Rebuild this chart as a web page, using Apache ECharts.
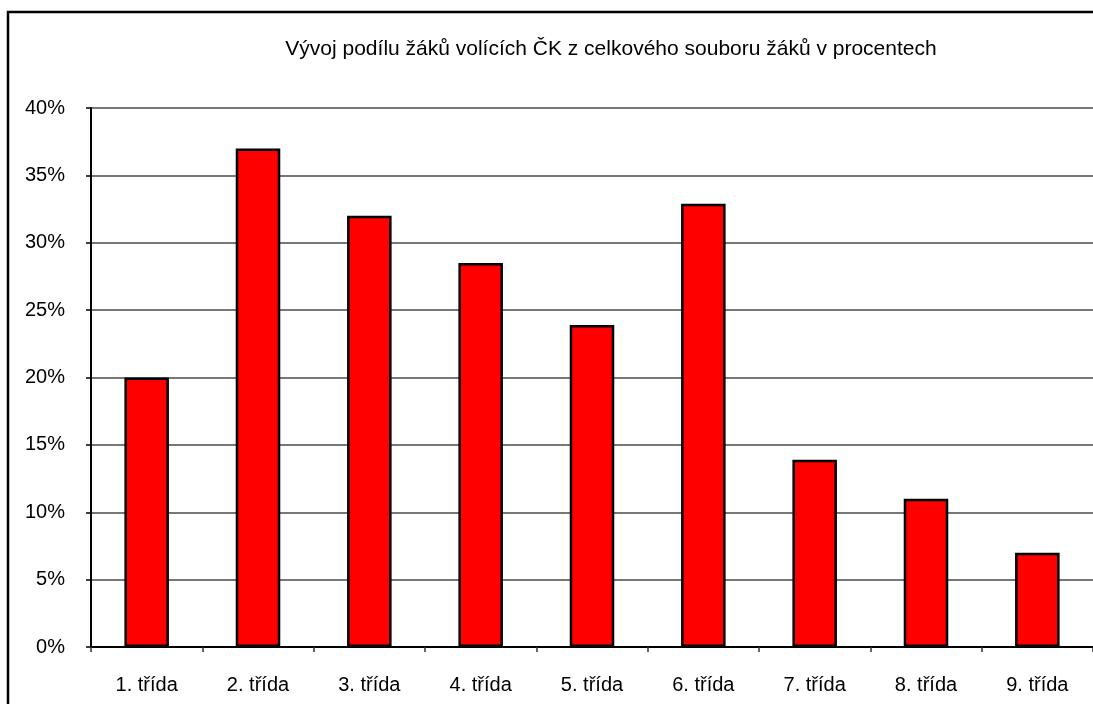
<!DOCTYPE html>
<html><head><meta charset="utf-8">
<script src="https://cdn.jsdelivr.net/npm/echarts@6/dist/echarts.min.js"></script>
<style>html,body{margin:0;padding:0;background:#fff}#c{width:1093px;height:704px}</style>
</head><body><div id="c"></div>
<script>
const titleText = 'Vývoj podílu žáků volících ČK z celkového souboru žáků v procentech';
const categories = ['1. třída','2. třída','3. třída','4. třída','5. třída','6. třída','7. třída','8. třída','9. třída'];
const shares = [20, 37, 32, 28.5, 23.9, 32.9, 13.9, 11, 7];
const yTicks = [0, 5, 10, 15, 20, 25, 30, 35, 40];

const chart = echarts.init(document.getElementById('c'));
chart.setOption({
  animation: false,
  backgroundColor: '#fff',
  textStyle: { fontFamily: 'Liberation Sans, Arial, sans-serif' },
  title: {
    text: titleText, left: 606, top: 34, textAlign: 'center',
    textStyle: { fontSize: 21, fontWeight: 'normal', color: '#000', fontFamily: 'Liberation Sans, Arial, sans-serif' }
  },
  graphic: [{
    type: 'rect', shape: { x: 8, y: 12, width: 1100, height: 700 },
    style: { fill: 'none', stroke: '#000', lineWidth: 2.5 }, z: 100
  }],
  grid: { left: 91, top: 108, width: 1007, height: 539, containLabel: false },
  xAxis: {
    type: 'category', data: categories,
    axisLine: { lineStyle: { color: '#000', width: 2 } },
    axisTick: { show: true, length: 5, lineStyle: { color: '#333', width: 1.5 } },
    axisLabel: { color: '#000', fontSize: 20, margin: 28 }
  },
  yAxis: {
    type: 'value', min: yTicks[0], max: yTicks[yTicks.length - 1], interval: 5,
    axisLine: { show: true, lineStyle: { color: '#000', width: 2 } },
    axisTick: { show: true, length: 5, lineStyle: { color: '#000', width: 1.5 } },
    axisLabel: { color: '#000', fontSize: 20, margin: 26, formatter: v => v + '%' },
    splitLine: { lineStyle: { color: '#4a4a4a', width: 1.5 } }
  },
  series: [{
    type: 'bar', data: shares, barWidth: '40%',
    itemStyle: { color: '#ff0000', borderColor: '#000', borderWidth: 2.5 }
  }]
});
</script></body></html>
